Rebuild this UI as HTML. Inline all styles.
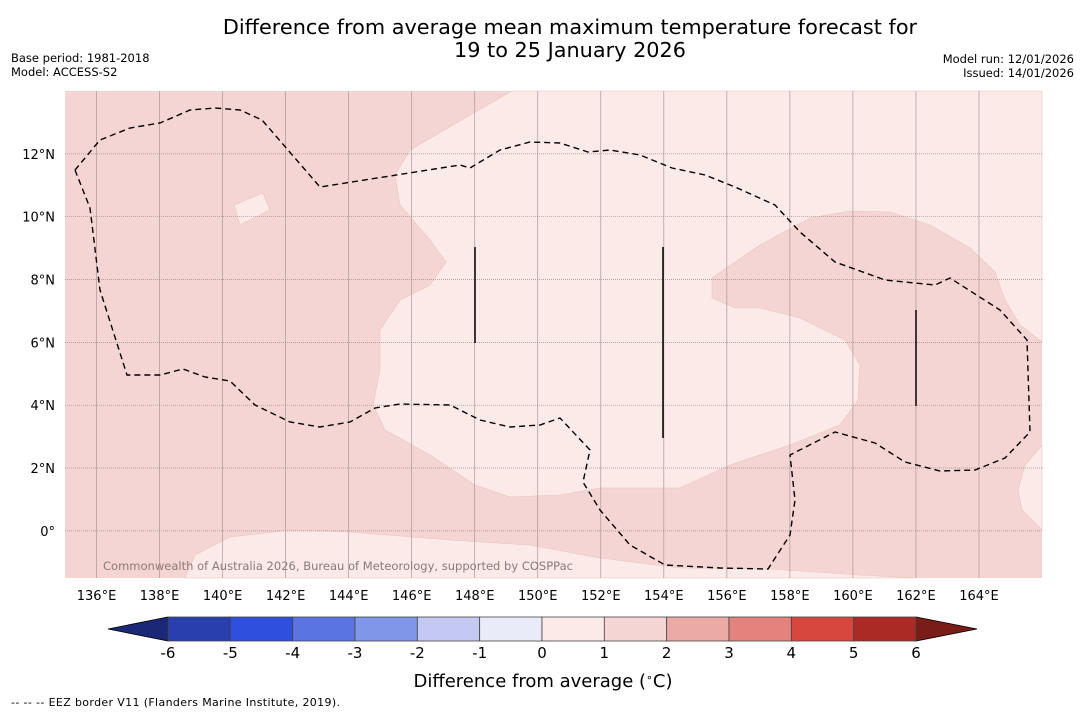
<!DOCTYPE html>
<html><head><meta charset="utf-8"><style>
body{margin:0;width:1085px;height:713px;background:#fff;font-family:"DejaVu Sans","Liberation Sans",sans-serif;overflow:hidden}
svg{position:absolute;left:0;top:0}
</style></head><body>
<svg id="chart" width="1085" height="713">
<text x="570" y="34" font-size="20.8" text-anchor="middle">Difference from average mean maximum temperature forecast for</text>
<text x="570" y="57" font-size="20.8" text-anchor="middle">19 to 25 January 2026</text>
<text x="11" y="62" font-size="11.5">Base period: 1981-2018</text>
<text x="11" y="76" font-size="11.5">Model: ACCESS-S2</text>
<text x="1074" y="63" font-size="11.5" text-anchor="end">Model run: 12/01/2026</text>
<text x="1074" y="77" font-size="11.5" text-anchor="end">Issued: 14/01/2026</text>
<g id="map">
<rect x="65" y="91" width="977" height="487" fill="#f5d5d3"/>
<polygon fill="#fbeae8" stroke="#e8c4c1" stroke-width="0.6" points="512,91 470,115 410,150 395,175 400,205 430,240 446,262 430,285 400,300 380,330 380,370 373,405 385,430 430,455 475,485 510,497 560,495 600,488 680,488 730,465 790,445 840,425 858,400 860,365 845,340 800,318 760,308 735,308 712,298 712,278 760,245 810,218 850,211 890,212 930,225 970,248 995,272 1005,300 1020,325 1042,342 1042,91"/>
<polygon fill="#fbeae8" stroke="#e8c4c1" stroke-width="0.6" points="185,578 195,555 230,537 290,530 350,532 450,540 530,545 600,558 680,568 770,569 860,575 915,578"/>
<polygon fill="#fbeae8" stroke="#e8c4c1" stroke-width="0.6" points="1042,445 1025,465 1018,490 1022,510 1042,530"/>
<polygon fill="#fbeae8" stroke="#e8c4c1" stroke-width="0.6" points="234,205 263,193 270,210 240,225"/>
<g id="grid"></g>
<polyline fill="none" stroke="#000" stroke-width="1.4" stroke-dasharray="6,4" points="75,170 90,208 100,290 127,375 160,375 183,369 205,377 230,381 255,405 290,422 320,427 350,422 375,408 400,404 450,405 480,420 510,427 540,425 560,418 590,450 583,482 600,510 630,545 665,565 720,568 768,569 790,535 795,500 790,455 835,432 875,443 905,462 940,471 975,470 1005,458 1030,432 1027,340 1000,310 950,278 935,285 885,280 835,262 800,232 775,205 735,187 705,175 672,168 640,155 610,150 588,152 560,143 530,142 500,150 470,168 460,165 320,187 262,120 240,110 215,108 190,110 160,123 130,128 100,140 75,170"/>
<line x1="475" y1="247" x2="475" y2="343" stroke="#000" stroke-width="1.5"/>
<line x1="663" y1="247" x2="663" y2="438" stroke="#000" stroke-width="1.5"/>
<line x1="916" y1="310" x2="916" y2="406" stroke="#000" stroke-width="1.5"/>
<text x="103" y="570" font-size="11.5" fill="#8a7a7a" textLength="470">Commonwealth of Australia 2026, Bureau of Meteorology, supported by COSPPac</text>
</g>
<g id="axes"></g>
<g id="colorbar"></g>
<text x="543" y="687" font-size="18" text-anchor="middle">Difference from average (<tspan font-size="11" dy="-6">∘</tspan><tspan dy="6">C)</tspan></text>
<text x="11" y="706" font-size="11" textLength="329">--  --  -- EEZ border V11 (Flanders Marine Institute, 2019).</text>
</svg>
<script>
const lonTicks=[136,138,140,142,144,146,148,150,152,154,156,158,160,162,164];
const latTicks=[0,2,4,6,8,10,12];
const cbLevels=[-6,-5,-4,-3,-2,-1,0,1,2,3,4,5,6];
const cbColors=["#2a3fae","#2f4fde","#5a75e2","#8096e8","#c3c9f2","#eaebf9","#fbeae8","#f5d5d3","#ebaaa5","#e4837d","#d8473e","#ab2a25"];
const NS="http://www.w3.org/2000/svg";
const X0=65,X1=1042,Y0=91,Y1=578,LON0=135,LON1=166,LAT0=-1.5,LAT1=14;
const xs=l=>X0+(l-LON0)/(LON1-LON0)*(X1-X0);
const ys=l=>Y1-(l-LAT0)/(LAT1-LAT0)*(Y1-Y0);
const cx=v=>168+(v+6)/12*(916-168);
function mk(t,a,p){const e=document.createElementNS(NS,t);for(const k in a)e.setAttribute(k,a[k]);p.appendChild(e);return e;}
const grid=document.getElementById('grid'),axes=document.getElementById('axes'),cb=document.getElementById('colorbar');
lonTicks.forEach(l=>{
 const g=mk('line',{x1:xs(l),x2:xs(l),y1:Y0,y2:Y1,stroke:'#a89898','stroke-width':0.7},grid);
 
 
 const t=mk('text',{x:xs(l),y:600,'font-size':13,'text-anchor':'middle'},axes);t.textContent=l+'°E';
 
 
});
latTicks.forEach(l=>{
 const g=mk('line',{x1:X0,x2:X1,y1:ys(l),y2:ys(l),stroke:'#9a8a8a','stroke-width':0.7,'stroke-dasharray':'1,1'},grid);
 
 
 const t=mk('text',{x:55,y:ys(l)+5,'font-size':13,'text-anchor':'end'},axes);t.textContent=l===0?'0°':l+'°N';
 
 
});
const cy0=617,cy1=641;
const lt=mk('polygon',{points:`108,629 ${cx(-6)},${cy0} ${cx(-6)},${cy1}`,fill:'#1b2878',stroke:'#000','stroke-width':0.8},cb);


const rt=mk('polygon',{points:`977,629 ${cx(6)},${cy0} ${cx(6)},${cy1}`,fill:'#7a1c18',stroke:'#000','stroke-width':0.8},cb);


cbColors.forEach((c,i)=>{
 const r=mk('rect',{x:cx(cbLevels[i]),y:cy0,width:cx(cbLevels[i+1])-cx(cbLevels[i]),height:cy1-cy0,fill:c,stroke:'#444','stroke-width':0.8},cb);
 
 
});
cbLevels.forEach(v=>{
 const t=mk('text',{x:cx(v),y:658,'font-size':15,'text-anchor':'middle'},cb);t.textContent=v;
 
 
});
</script>
</body></html>
